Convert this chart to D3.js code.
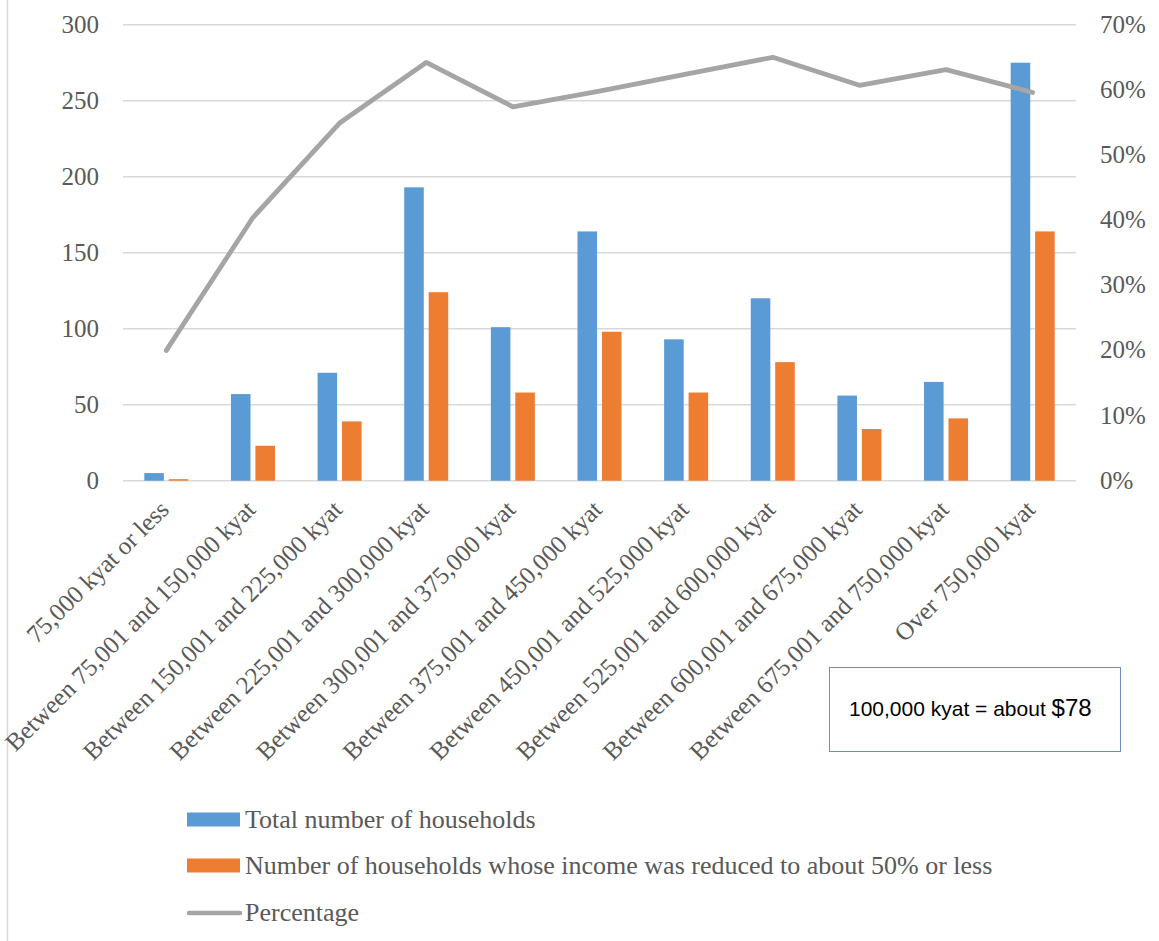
<!DOCTYPE html>
<html>
<head>
<meta charset="utf-8">
<script src="https://cdn.jsdelivr.net/npm/d3@7"></script>
<style>
  html, body { margin: 0; padding: 0; background: #fff; }
  svg { display: block; }
</style>
</head>
<body>
<div id="chart"></div>
<script>
const categories = [
  "75,000 kyat or less",
  "Between 75,001 and 150,000 kyat",
  "Between 150,001 and 225,000 kyat",
  "Between 225,001 and 300,000 kyat",
  "Between 300,001 and 375,000 kyat",
  "Between 375,001 and 450,000 kyat",
  "Between 450,001 and 525,000 kyat",
  "Between 525,001 and 600,000 kyat",
  "Between 600,001 and 675,000 kyat",
  "Between 675,001 and 750,000 kyat",
  "Over 750,000 kyat"
];
const totalHouseholds   = [5, 57, 71, 193, 101, 164, 93, 120, 56, 65, 275];
const reducedHouseholds = [1, 23, 39, 124, 58, 98, 58, 78, 34, 41, 164];
const percentage        = [20.0, 40.4, 54.9, 64.2, 57.4, 59.8, 62.4, 65.0, 60.7, 63.1, 59.6];
const leftTicks  = [0, 50, 100, 150, 200, 250, 300];
const rightTicks = [0, 10, 20, 30, 40, 50, 60, 70];
const seriesNames = [
  "Total number of households",
  "Number of households whose income was reduced to about 50% or less",
  "Percentage"
];
const noteText = "100,000 kyat = about ";
const noteAmount = "$78";

const W = 1159, H = 941;
const plot = { left: 123, right: 1076, top: 24.7, bottom: 480.7 };
const colors = { total: "#5b9bd5", reduced: "#ed7d31", pct: "#a5a5a5", grid: "#d9d9d9", text: "#595959" };
const serif = "'Liberation Serif', 'Times New Roman', serif";

const svg = d3.select("#chart").append("svg").attr("width", W).attr("height", H);

// left border line
svg.append("line").attr("x1", 7.5).attr("x2", 7.5).attr("y1", 0).attr("y2", H)
  .attr("stroke", colors.grid).attr("stroke-width", 1.5);

const x0 = d3.scaleBand().domain(categories).range([plot.left, plot.right]).padding(0);
const bw = x0.bandwidth();
const x1 = d3.scaleBand().domain(["total", "reduced"])
  .range([bw * 0.246, bw * 0.754]).paddingInner(0.2).paddingOuter(0);
const yL = d3.scaleLinear().domain([0, 300]).range([plot.bottom, plot.top]);
const yR = d3.scaleLinear().domain([0, 70]).range([plot.bottom, plot.top]);

// gridlines
svg.append("g").selectAll("line").data(leftTicks).join("line")
  .attr("x1", plot.left).attr("x2", plot.right)
  .attr("y1", d => yL(d)).attr("y2", d => yL(d))
  .attr("stroke", colors.grid).attr("stroke-width", 1.5);

// left axis
const axL = svg.append("g").attr("transform", `translate(${plot.left - 24},0)`)
  .call(d3.axisLeft(yL).tickValues(leftTicks).tickSize(0).tickPadding(0));
axL.select(".domain").remove();
axL.selectAll("text").attr("font-family", serif).attr("font-size", 25)
  .attr("fill", colors.text).attr("dy", "0.3em");

// right axis
const axR = svg.append("g").attr("transform", `translate(${plot.right + 24},0)`)
  .call(d3.axisRight(yR).tickValues(rightTicks).tickSize(0).tickPadding(0).tickFormat(d => d + "%"));
axR.select(".domain").remove();
axR.selectAll("text").attr("font-family", serif).attr("font-size", 25)
  .attr("fill", colors.text).attr("dy", "0.3em");

// bars
const rows = categories.map((c, i) => ({ c, total: totalHouseholds[i], reduced: reducedHouseholds[i] }));
const groups = svg.append("g").selectAll("g").data(rows).join("g")
  .attr("transform", d => `translate(${x0(d.c)},0)`);
groups.selectAll("rect").data(d => [
  { k: "total", v: d.total }, { k: "reduced", v: d.reduced }
]).join("rect")
  .attr("x", d => x1(d.k)).attr("width", x1.bandwidth())
  .attr("y", d => yL(d.v)).attr("height", d => yL(0) - yL(d.v))
  .attr("fill", d => colors[d.k]);

// line
const line = d3.line()
  .x((d, i) => x0(categories[i]) + bw / 2)
  .y(d => yR(d));
svg.append("path").datum(percentage).attr("d", line)
  .attr("fill", "none").attr("stroke", colors.pct).attr("stroke-width", 4.8)
  .attr("stroke-linejoin", "round").attr("stroke-linecap", "round");

// category labels
svg.append("g").selectAll("text").data(categories).join("text")
  .attr("transform", d => `translate(${x0(d) + bw / 2 + 4},${511}) rotate(-45)`)
  .attr("text-anchor", "end")
  .attr("font-family", serif).attr("font-size", 25).attr("fill", colors.text)
  .text(d => d);

// note box
svg.append("rect").attr("x", 829.5).attr("y", 667.5).attr("width", 291).attr("height", 84)
  .attr("fill", "#fff").attr("stroke", "#6d8fbd").attr("stroke-width", 1);
const note = svg.append("text").attr("x", 849).attr("y", 716)
  .attr("font-family", "'Liberation Sans', Arial, sans-serif").attr("fill", "#000");
note.append("tspan").attr("font-size", 21).text(noteText);
note.append("tspan").attr("font-size", 24).text(noteAmount);

// legend
const legendY = [819.5, 865.5, 913];
const lg = svg.append("g");
seriesNames.forEach((name, i) => {
  if (i < 2) {
    lg.append("rect").attr("x", 187).attr("y", legendY[i] - 7).attr("width", 53).attr("height", 14)
      .attr("fill", i === 0 ? colors.total : colors.reduced);
  } else {
    lg.append("line").attr("x1", 189).attr("x2", 240).attr("y1", legendY[i]).attr("y2", legendY[i])
      .attr("stroke", colors.pct).attr("stroke-width", 4.5).attr("stroke-linecap", "round");
  }
  lg.append("text").attr("x", 245).attr("y", legendY[i]).attr("dy", "0.32em")
    .attr("font-family", serif).attr("font-size", 26).attr("fill", colors.text)
    .text(name);
});
</script>
</body>
</html>
